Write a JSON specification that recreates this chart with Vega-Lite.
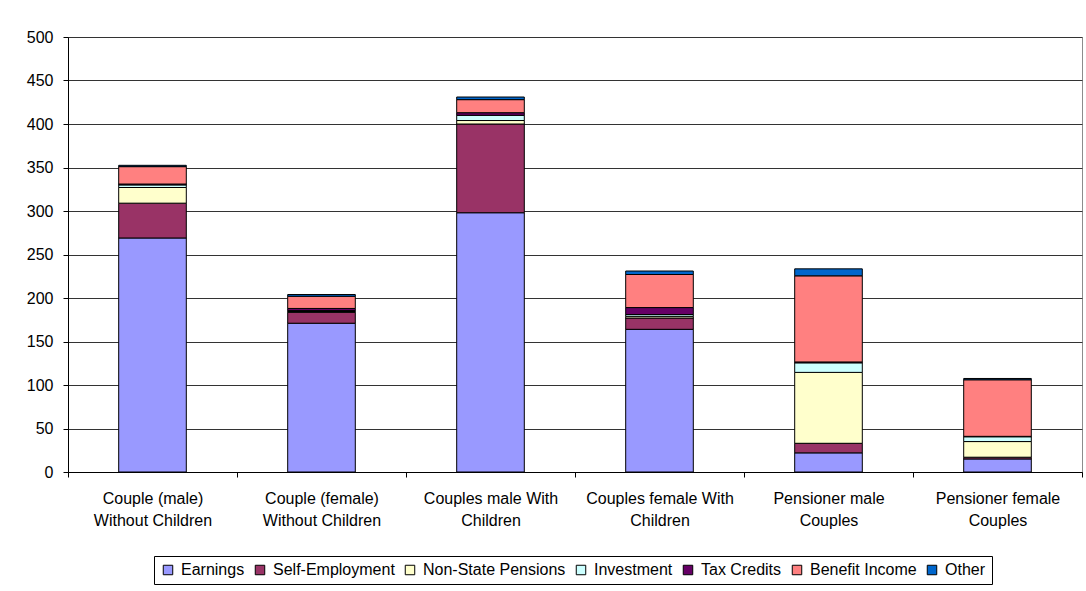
{
  "$schema": "https://vega.github.io/schema/vega-lite/v6.json",
  "width": 1014,
  "height": 435,
  "autosize": {"type": "none"},
  "padding": {"left": 68, "top": 37, "right": 4, "bottom": 119},
  "background": "white",
  "config": {
    "font": "Liberation Sans",
    "view": {"stroke": "#8c8c8c", "strokeWidth": 1}
  },
  "data": {
    "values": [
      {"group": "Couple (male) Without Children", "source": "Earnings", "value": 269},
      {"group": "Couple (male) Without Children", "source": "Self-Employment", "value": 40},
      {"group": "Couple (male) Without Children", "source": "Non-State Pensions", "value": 18},
      {"group": "Couple (male) Without Children", "source": "Investment", "value": 3},
      {"group": "Couple (male) Without Children", "source": "Tax Credits", "value": 1},
      {"group": "Couple (male) Without Children", "source": "Benefit Income", "value": 20},
      {"group": "Couple (male) Without Children", "source": "Other", "value": 1.5},
      {"group": "Couple (female) Without Children", "source": "Earnings", "value": 171},
      {"group": "Couple (female) Without Children", "source": "Self-Employment", "value": 12.5},
      {"group": "Couple (female) Without Children", "source": "Non-State Pensions", "value": 1},
      {"group": "Couple (female) Without Children", "source": "Investment", "value": 1},
      {"group": "Couple (female) Without Children", "source": "Tax Credits", "value": 2.5},
      {"group": "Couple (female) Without Children", "source": "Benefit Income", "value": 14},
      {"group": "Couple (female) Without Children", "source": "Other", "value": 2},
      {"group": "Couples male With Children", "source": "Earnings", "value": 298},
      {"group": "Couples male With Children", "source": "Self-Employment", "value": 102},
      {"group": "Couples male With Children", "source": "Non-State Pensions", "value": 4},
      {"group": "Couples male With Children", "source": "Investment", "value": 6},
      {"group": "Couples male With Children", "source": "Tax Credits", "value": 3},
      {"group": "Couples male With Children", "source": "Benefit Income", "value": 15},
      {"group": "Couples male With Children", "source": "Other", "value": 3},
      {"group": "Couples female With Children", "source": "Earnings", "value": 164},
      {"group": "Couples female With Children", "source": "Self-Employment", "value": 13},
      {"group": "Couples female With Children", "source": "Non-State Pensions", "value": 2},
      {"group": "Couples female With Children", "source": "Investment", "value": 2},
      {"group": "Couples female With Children", "source": "Tax Credits", "value": 8},
      {"group": "Couples female With Children", "source": "Benefit Income", "value": 38},
      {"group": "Couples female With Children", "source": "Other", "value": 4},
      {"group": "Pensioner male Couples", "source": "Earnings", "value": 22},
      {"group": "Pensioner male Couples", "source": "Self-Employment", "value": 11},
      {"group": "Pensioner male Couples", "source": "Non-State Pensions", "value": 81.5},
      {"group": "Pensioner male Couples", "source": "Investment", "value": 11},
      {"group": "Pensioner male Couples", "source": "Tax Credits", "value": 1},
      {"group": "Pensioner male Couples", "source": "Benefit Income", "value": 99},
      {"group": "Pensioner male Couples", "source": "Other", "value": 8},
      {"group": "Pensioner female Couples", "source": "Earnings", "value": 15},
      {"group": "Pensioner female Couples", "source": "Self-Employment", "value": 2},
      {"group": "Pensioner female Couples", "source": "Non-State Pensions", "value": 18},
      {"group": "Pensioner female Couples", "source": "Investment", "value": 5.5},
      {"group": "Pensioner female Couples", "source": "Tax Credits", "value": 0.5},
      {"group": "Pensioner female Couples", "source": "Benefit Income", "value": 65},
      {"group": "Pensioner female Couples", "source": "Other", "value": 1.5}
    ]
  },
  "transform": [
    {"calculate": "indexof(['Earnings', 'Self-Employment', 'Non-State Pensions', 'Investment', 'Tax Credits', 'Benefit Income', 'Other'], datum.source)", "as": "stackOrder"}
  ],
  "mark": {"type": "bar", "width": {"band": 0.4}, "stroke": "black", "strokeWidth": 1},
  "encoding": {
    "x": {
      "field": "group",
      "type": "nominal",
      "sort": null,
      "scale": {"paddingInner": 0, "paddingOuter": 0},
      "axis": {
        "title": null,
        "labelAngle": 0,
        "labelFontSize": 16,
        "labelColor": "black",
        "labelLineHeight": 22,
        "labelPadding": 13,
        "labelLimit": 300,
        "tickBand": "extent",
        "tickSize": 5,
        "tickColor": "black",
        "domainColor": "black",
        "labelExpr": "indexof(datum.label, ' Without') >= 0 ? [substring(datum.label, 0, indexof(datum.label, ' Without')), 'Without Children'] : [substring(datum.label, 0, lastindexof(datum.label, ' ')), substring(datum.label, lastindexof(datum.label, ' ') + 1)]"
      }
    },
    "y": {
      "field": "value",
      "type": "quantitative",
      "stack": "zero",
      "scale": {"domain": [0, 500], "nice": false},
      "axis": {
        "title": null,
        "values": [0, 50, 100, 150, 200, 250, 300, 350, 400, 450, 500],
        "labelFontSize": 16,
        "labelColor": "black",
        "labelPadding": 10,
        "tickSize": 5,
        "tickColor": "black",
        "domainColor": "black",
        "gridColor": "#333333",
        "gridWidth": 1
      }
    },
    "color": {
      "field": "source",
      "type": "nominal",
      "sort": ["Earnings", "Self-Employment", "Non-State Pensions", "Investment", "Tax Credits", "Benefit Income", "Other"],
      "scale": {
        "domain": ["Earnings", "Self-Employment", "Non-State Pensions", "Investment", "Tax Credits", "Benefit Income", "Other"],
        "range": ["#9999FF", "#993366", "#FFFFCC", "#CCFFFF", "#660066", "#FF8080", "#0066CC"]
      },
      "legend": {
        "title": null,
        "orient": "none",
        "legendX": 86,
        "legendY": 519,
        "direction": "horizontal",
        "symbolType": "square",
        "symbolSize": 90,
        "symbolStrokeColor": "black",
        "symbolStrokeWidth": 1,
        "symbolOpacity": 1,
        "labelFontSize": 16,
        "labelColor": "black",
        "labelOffset": 5,
        "columnPadding": 7,
        "strokeColor": "black",
        "fillColor": "white",
        "padding": 6
      }
    },
    "order": {"field": "stackOrder", "type": "quantitative", "sort": "ascending"}
  }
}
